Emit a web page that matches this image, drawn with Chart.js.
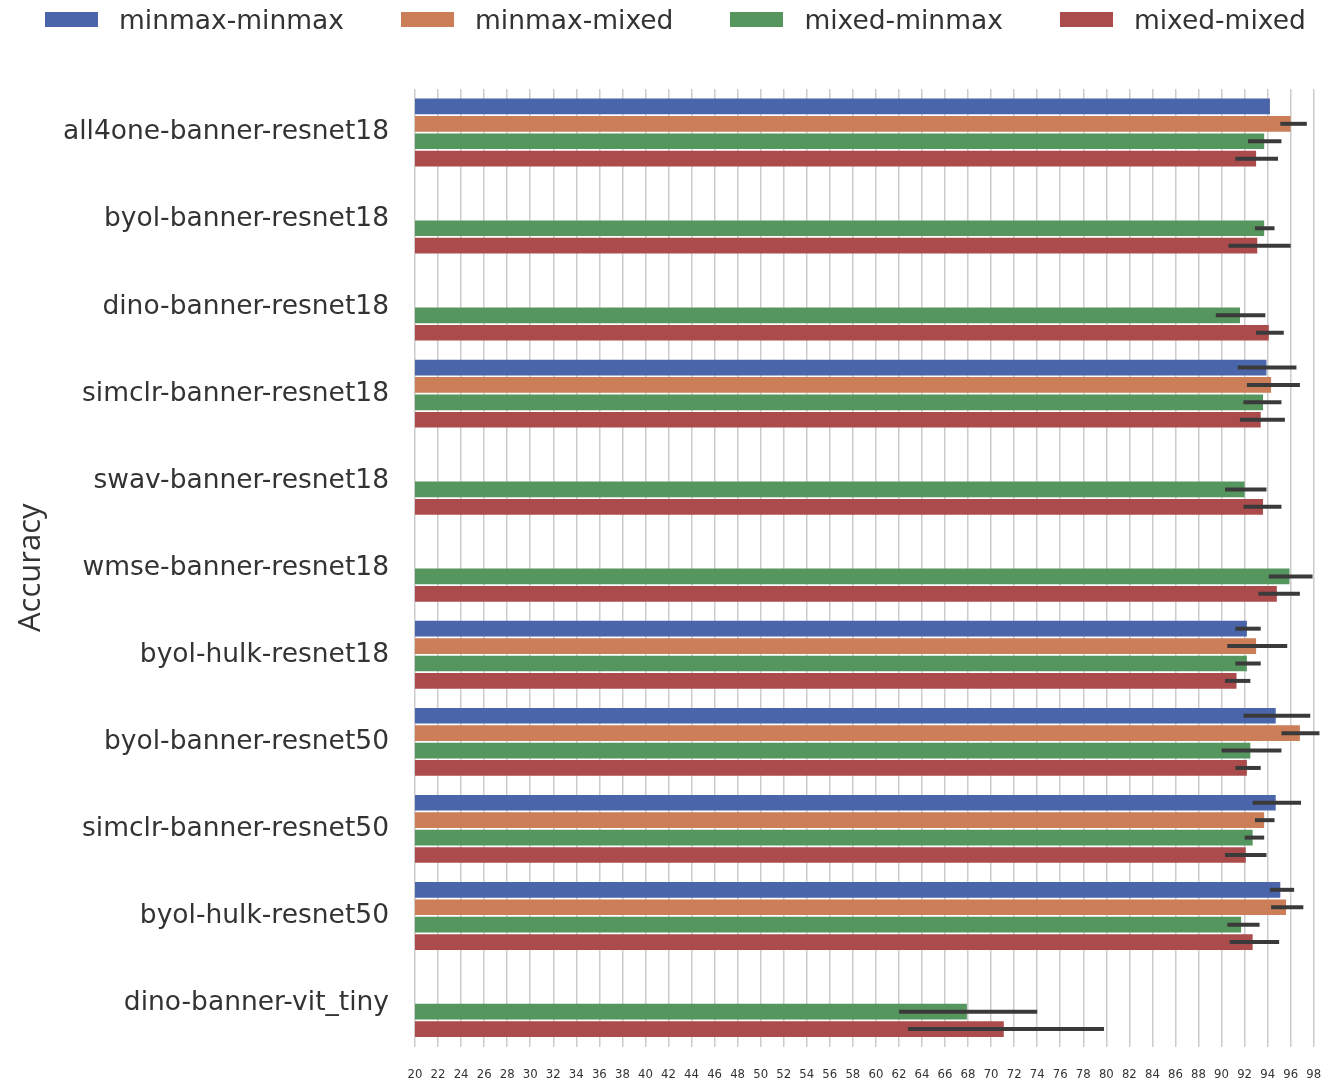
<!DOCTYPE html>
<html>
<head>
<meta charset="utf-8">
<script src="https://cdn.jsdelivr.net/npm/chart.js@4.4.1/dist/chart.umd.min.js"></script>
<style>
  html, body { margin: 0; padding: 0; background: #fff; overflow: hidden; }
  #wrap { position: relative; width: 1332px; height: 1081px; }
  #legend {
    position: absolute; left: 45px; top: 4px; height: 30px;
    display: flex; align-items: center; gap: 57px;
    font-family: "DejaVu Sans", sans-serif; font-size: 26.5px; color: #333;
  }
  .leg-item { display: flex; align-items: center; }
  .leg-box { width: 53px; height: 15px; margin-right: 21px; }
</style>
</head>
<body>
<div id="wrap">
  <canvas id="chart"></canvas>
  <div id="legend"></div>
</div>
<script>
const categories = [
  "all4one-banner-resnet18",
  "byol-banner-resnet18",
  "dino-banner-resnet18",
  "simclr-banner-resnet18",
  "swav-banner-resnet18",
  "wmse-banner-resnet18",
  "byol-hulk-resnet18",
  "byol-banner-resnet50",
  "simclr-banner-resnet50",
  "byol-hulk-resnet50",
  "dino-banner-vit_tiny",
];

const seriesNames = ["minmax-minmax", "minmax-mixed", "mixed-minmax", "mixed-mixed"];
const seriesColors = ["#4a65a9", "#cb7e57", "#55955e", "#ac4b4c"];

// mean accuracy per category
const minmaxMinmax = [94.2, null, null, 93.9, null, null, 92.2, 94.7, 94.7, 95.1, null];
const minmaxMixed = [96.0, null, null, 94.3, null, null, 93.0, 96.8, 93.7, 95.6, null];
const mixedMinmax = [93.7, 93.7, 91.6, 93.6, 92.0, 95.9, 92.2, 92.5, 92.7, 91.7, 67.9];
const mixedMixed = [93.0, 93.1, 94.1, 93.4, 93.6, 94.8, 91.3, 92.2, 92.1, 92.7, 71.1];

// error bar ends (low / high)
const minmaxMinmaxLow = [null, null, null, 91.4, null, null, 91.2, 91.9, 92.7, 94.2, null];
const minmaxMinmaxHigh = [null, null, null, 96.5, null, null, 93.4, 97.7, 96.9, 96.3, null];
const minmaxMixedLow = [95.1, null, null, 92.2, null, null, 90.5, 95.2, 92.9, 94.3, null];
const minmaxMixedHigh = [97.4, null, null, 96.8, null, null, 95.7, 98.5, 94.6, 97.1, null];
const mixedMinmaxLow = [92.3, 92.9, 89.5, 91.9, 90.3, 94.1, 91.2, 90.0, 92.0, 90.5, 62.0];
const mixedMinmaxHigh = [95.2, 94.6, 93.8, 95.2, 93.9, 97.9, 93.4, 95.2, 93.7, 93.3, 74.0];
const mixedMixedLow = [91.2, 90.6, 93.0, 91.6, 91.9, 93.2, 90.3, 91.2, 90.3, 90.7, 62.8];
const mixedMixedHigh = [94.9, 96.0, 95.4, 95.5, 95.2, 96.8, 92.5, 93.4, 93.9, 95.0, 79.8];

const xTicks = [20, 22, 24, 26, 28, 30, 32, 34, 36, 38, 40, 42, 44, 46, 48, 50, 52, 54, 56, 58,
  60, 62, 64, 66, 68, 70, 72, 74, 76, 78, 80, 82, 84, 86, 88, 90, 92, 94, 96, 98];

const seriesValues = [minmaxMinmax, minmaxMixed, mixedMinmax, mixedMixed];
const seriesLow = [minmaxMinmaxLow, minmaxMixedLow, mixedMinmaxLow, mixedMixedLow];
const seriesHigh = [minmaxMinmaxHigh, minmaxMixedHigh, mixedMinmaxHigh, mixedMixedHigh];

function renderLegend() {
  const legend = document.getElementById("legend");
  legend.innerHTML = seriesNames
    .map(
      (name, i) => `
    <div class="leg-item">
      <div class="leg-box" style="background:${seriesColors[i]}"></div>
      <span>${name}</span>
    </div>`,
    )
    .join("");
}

const errorBars = {
  id: "errorBars",
  afterDatasetsDraw(chart) {
    const ctx = chart.ctx;
    const xScale = chart.scales.x;
    ctx.save();
    ctx.strokeStyle = "#3a3a3a";
    ctx.lineWidth = 4;
    ctx.lineCap = "butt";
    seriesValues.forEach((_, i) => {
      const meta = chart.getDatasetMeta(i);
      meta.data.forEach((bar, j) => {
        const lo = seriesLow[i][j];
        const hi = seriesHigh[i][j];
        if (lo == null || hi == null) return;
        ctx.beginPath();
        ctx.moveTo(xScale.getPixelForValue(lo), bar.y);
        ctx.lineTo(xScale.getPixelForValue(hi), bar.y);
        ctx.stroke();
      });
    });
    ctx.restore();
  },
};

function initChart() {
  Chart.defaults.color = "#333";
  const ctx = document.getElementById("chart").getContext("2d");
  new Chart(ctx, {
    type: "bar",
    data: {
      labels: categories,
      datasets: seriesNames.map((name, i) => ({
        label: name,
        data: seriesValues[i],
        backgroundColor: seriesColors[i],
        borderWidth: 0,
        categoryPercentage: 0.8,
        barPercentage: 0.9,
      })),
    },
    options: {
      indexAxis: "y",
      responsive: true,
      maintainAspectRatio: false,
      animation: false,
      layout: { padding: { top: 89, right: 1, left: 0, bottom: 0 } },
      plugins: {
        legend: { display: false },
        tooltip: { enabled: false },
      },
      scales: {
        x: {
          min: 20,
          max: 99.5,
          afterBuildTicks: (scale) => {
            scale.ticks = xTicks.map((v) => ({ value: v }));
          },
          afterFit: (scale) => {
            scale.height = 34.5;
            scale.paddingLeft = 0;
            scale.paddingRight = 0;
          },
          ticks: {
            padding: 20,
            autoSkip: false,
            maxRotation: 0,
            color: "#333",
            font: { family: "'Liberation Sans Narrow', 'DejaVu Sans Condensed', sans-serif", size: 13 },
          },
          grid: { color: "#cccccc", lineWidth: 1.5, drawTicks: false },
          border: { display: false },
        },
        y: {
          afterFit: (scale) => {
            scale.width = 415;
            scale.paddingTop = 0;
            scale.paddingBottom = 0;
          },
          ticks: {
            padding: 26,
            color: "#333",
            font: { family: "'DejaVu Sans', sans-serif", size: 26.5 },
          },
          grid: { display: false, drawTicks: false },
          border: { display: false },
          title: {
            display: true,
            text: "Accuracy",
            color: "#333",
            padding: { top: 13, bottom: 0 },
            font: { family: "'Open Sans', sans-serif", size: 31 },
          },
        },
      },
    },
    plugins: [errorBars],
  });
}

document.addEventListener("DOMContentLoaded", function () {
  renderLegend();
  initChart();
});
</script>
</body>
</html>
